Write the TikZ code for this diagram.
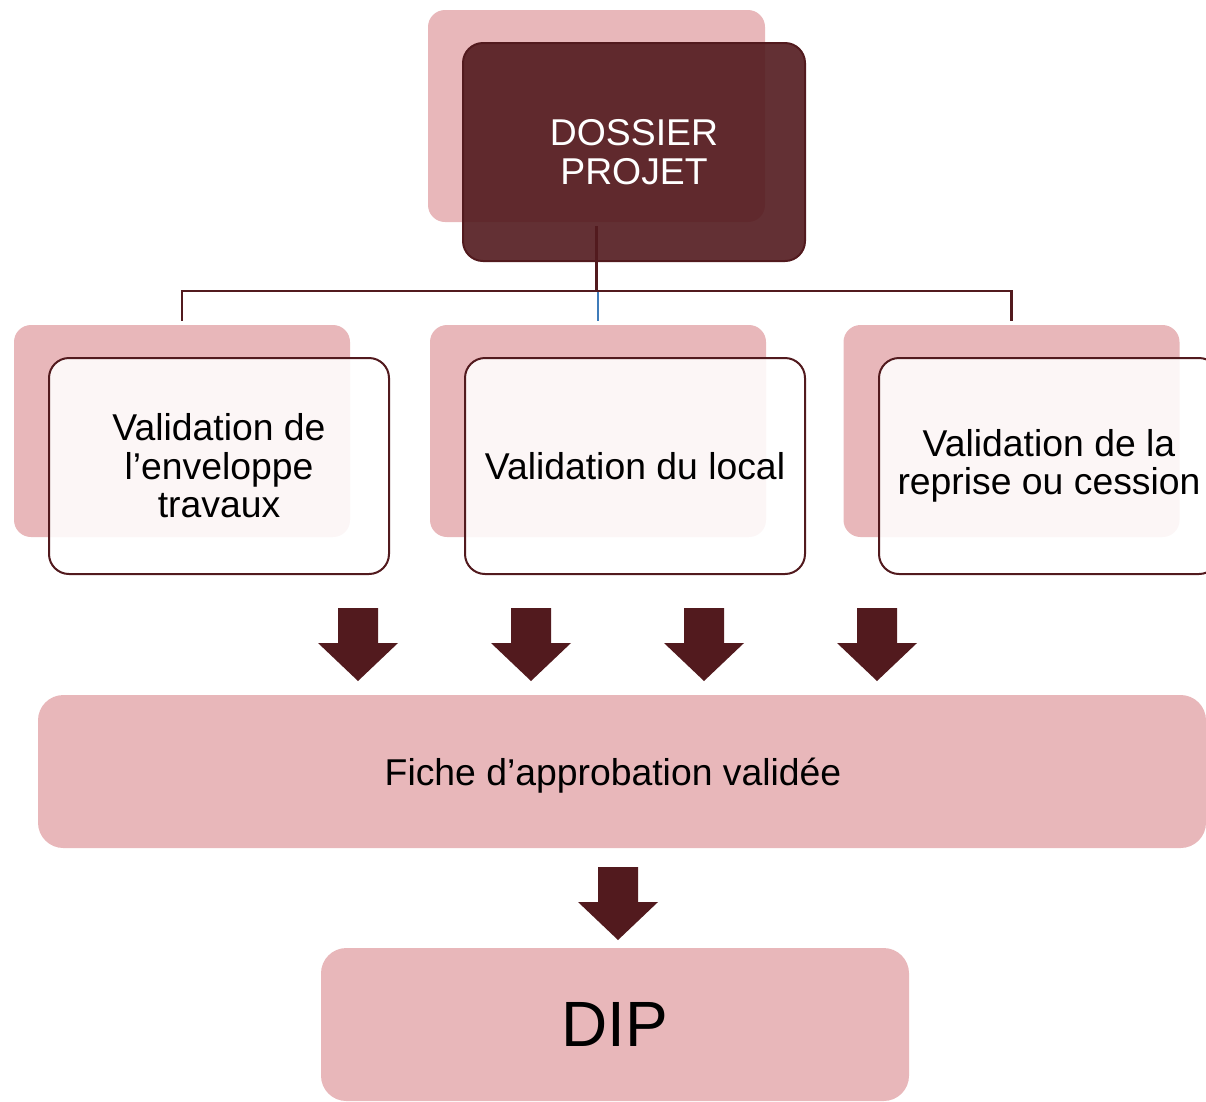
\documentclass[tikz,border=0pt]{standalone}
\usepackage{fontspec}
\setmainfont{Liberation Sans}
\definecolor{pinkc}{HTML}{E8B7BA}
\definecolor{maroon}{HTML}{521A1E}
\definecolor{blueline}{HTML}{3F7CBA}
\tikzset{
  lbl/.style={font=\fontsize{28}{28.8}\selectfont},
  backbox/.style={fill=pinkc, draw=none, rounded corners=12.75pt, minimum width=252pt, minimum height=159pt, inner sep=0pt},
  frontbox/.style={fill=white, fill opacity=0.88, text opacity=1, draw=maroon, line width=1.5pt, rounded corners=15pt, minimum width=255pt, minimum height=162pt, inner sep=0pt, align=center, lbl},
  darkbox/.style={fill=maroon, fill opacity=0.9, text opacity=1, draw=maroon, line width=1.5pt, rounded corners=15pt, minimum width=256.5pt, minimum height=163.5pt, inner sep=0pt, align=center, text=white, lbl},
  widebox/.style={fill=pinkc, draw=none, rounded corners=19pt, inner sep=0pt},
  conn/.style={draw=maroon, line width=1.7pt},
  blueconn/.style={draw=blueline, line width=1.7pt},
  blockarrow/.pic={\fill[maroon] (-20,0) -- (20,0) -- (20,35) -- (40,35) -- (0,73) -- (-40,35) -- (-20,35) -- cycle;}
}
\begin{document}
\begin{tikzpicture}[x=0.75pt, y=-0.75pt]
\useasboundingbox (0,0) rectangle (1206,1101);
% top
\node[backbox, minimum width=252.75pt] (topback) at (596.5,116) {};
\node[darkbox] (top) at (634,152) {DOSSIER\\PROJET};
% level 2 back boxes
\node[backbox] (lb) at (182,431) {};
\node[backbox] (mb) at (598,431) {};
\node[backbox] (rb) at (1011.5,431) {};
% level 2 front boxes
\node[frontbox] (lf) at (219,466) {Validation de\\l’enveloppe\\travaux};
\node[frontbox] (mf) at (635,466) {Validation du local};
\node[frontbox] (rf) at (1049,466) {Validation de la\\reprise ou cession};
% connectors
\coordinate (bus) at (0,291);
\draw[conn] ([yshift=-3pt]topback.south) -- (topback.south |- bus);
\draw[conn] ([xshift=-0.85pt]lb.north |- bus) -- ([xshift=0.85pt]rb.north |- bus);
\draw[conn] (lb.north |- bus) -- ([yshift=3pt]lb.north);
\draw[conn] (rb.north |- bus) -- ([yshift=3pt]rb.north);
\draw[blueconn] ([yshift=-0.85pt]mb.north |- bus) -- ([yshift=3pt]mb.north);
% arrows
\pic at (358,608) {blockarrow};
\pic at (531,608) {blockarrow};
\pic at (704,608) {blockarrow};
\pic at (877,608) {blockarrow};
% fiche
\node[widebox, minimum width=876pt, minimum height=114.75pt] (fiche) at (622,771.5) {};
\node[lbl, inner sep=0pt] (fichetext) at (613,776) {Fiche d’approbation validée};
\pic at (618,867) {blockarrow};
% DIP
\node[widebox, minimum width=441pt, minimum height=114.75pt, font=\fontsize{48}{52}\selectfont] (dip) at (615,1024.5) {DIP};
\end{tikzpicture}
\end{document}
